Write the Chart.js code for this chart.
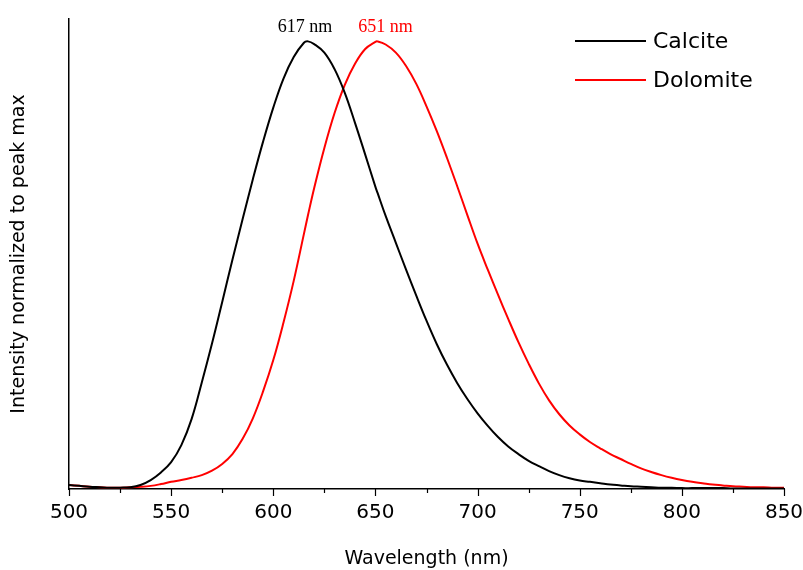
<!DOCTYPE html>
<html>
<head>
<meta charset="utf-8">
<title>Calcite and Dolomite emission</title>
<script src="https://cdn.jsdelivr.net/npm/chart.js@4/dist/chart.umd.min.js"></script>
<style>
  html, body { margin: 0; padding: 0; background: #fff; }
  #wrap { width: 803px; height: 570px; position: relative; }
</style>
</head>
<body>
<div id="wrap"><canvas id="c" width="803" height="570"></canvas></div>
<script>
// Wavelength grid (nm)
const wavelengths = [
  500,505,510,515,520,525,530,535,540,545,550,555,560,565,570,575,580,585,590,595,
  600,605,610,615,617,620,625,630,635,640,645,650,651,655,660,665,670,675,680,685,
  690,695,700,705,710,715,720,725,730,735,740,745,750,755,760,765,770,775,780,785,
  790,795,800,805,810,815,820,825,830,835,840,845,850
];

// Normalized emission intensity, calcite
const calcite = [
  0.009,0.007,0.005,0.004,0.003,0.003,0.004,0.009,0.020,0.037,0.060,0.098,0.156,0.238,0.325,0.418,0.512,0.603,0.692,0.776,
  0.852,0.917,0.965,0.997,1.000,0.994,0.975,0.938,0.885,0.818,0.747,0.675,0.662,0.610,0.550,0.490,0.432,0.376,0.324,0.278,
  0.237,0.201,0.169,0.141,0.116,0.095,0.078,0.063,0.051,0.040,0.031,0.024,0.019,0.016,0.013,0.010,0.008,0.006,0.005,0.004,
  0.003,0.003,0.002,0.002,0.002,0.002,0.002,0.001,0.001,0.001,0.001,0.001,0.001
];

// Normalized emission intensity, dolomite
const dolomite = [
  0.009,0.007,0.005,0.004,0.003,0.003,0.004,0.005,0.007,0.011,0.016,0.020,0.025,0.031,0.041,0.056,0.078,0.112,0.158,0.218,
  0.288,0.372,0.465,0.570,0.612,0.672,0.762,0.840,0.903,0.950,0.983,0.999,1.000,0.993,0.975,0.945,0.905,0.855,0.800,0.740,
  0.677,0.612,0.548,0.490,0.434,0.380,0.328,0.280,0.236,0.198,0.167,0.142,0.122,0.105,0.091,0.078,0.067,0.056,0.046,0.038,
  0.031,0.025,0.020,0.016,0.013,0.010,0.008,0.006,0.005,0.004,0.004,0.003,0.003
];

const seriesNames = ['Calcite', 'Dolomite'];
const seriesColors = ['#000000', '#ff0000'];
const peakNm = [617, 651];
const peakLabels = ['617 nm', '651 nm'];

// x-axis tick values
const majorTicks = [500, 550, 600, 650, 700, 750, 800, 850];
const minorTicks = [525, 575, 625, 675, 725, 775, 825];

const UI_FONT = '"Comic Sans MS", "DejaVu Sans", sans-serif';

const toPoints = (vals) => wavelengths.map((x, i) => ({ x: x, y: vals[i] }));

// Tick marks under the x axis: long at 50 nm, short at 25 nm
const tickMarks = {
  id: 'tickMarks',
  afterDatasetsDraw(chart) {
    const { ctx, scales: { x }, chartArea } = chart;
    ctx.save();
    ctx.strokeStyle = '#000';
    ctx.lineWidth = 1.2;
    const y0 = chartArea.bottom;
    const draw = (v, len) => {
      const px = Math.round(x.getPixelForValue(v)) + 0.5;
      ctx.beginPath();
      ctx.moveTo(px, y0);
      ctx.lineTo(px, y0 + len);
      ctx.stroke();
    };
    majorTicks.forEach(v => draw(v, 7));
    minorTicks.forEach(v => draw(v, 4));
    ctx.restore();
  }
};

// Peak wavelength annotations
const peakNotes = {
  id: 'peakNotes',
  afterDatasetsDraw(chart) {
    const { ctx, scales: { x, y } } = chart;
    const shift = [-3, 8];
    ctx.save();
    ctx.font = '18px "Liberation Serif", "Times New Roman", serif';
    ctx.textAlign = 'center';
    ctx.textBaseline = 'alphabetic';
    peakNm.forEach((nm, i) => {
      ctx.fillStyle = seriesColors[i];
      ctx.fillText(peakLabels[i], x.getPixelForValue(nm) + shift[i], y.getPixelForValue(1) - 9);
    });
    ctx.restore();
  }
};

// Legend in the upper right of the plot
const lineLegend = {
  id: 'lineLegend',
  afterDraw(chart) {
    const { ctx } = chart;
    ctx.save();
    ctx.font = '22px ' + UI_FONT;
    ctx.textBaseline = 'middle';
    ctx.textAlign = 'left';
    chart.data.datasets.forEach((ds, i) => {
      const yy = 41 + i * 39;
      ctx.strokeStyle = ds.borderColor;
      ctx.lineWidth = 2;
      ctx.beginPath();
      ctx.moveTo(575, yy);
      ctx.lineTo(646, yy);
      ctx.stroke();
      ctx.fillStyle = '#000';
      ctx.fillText(ds.label, 653, yy + 1);
    });
    ctx.restore();
  }
};

new Chart(document.getElementById('c'), {
  type: 'line',
  data: {
    datasets: [
      { label: seriesNames[0], data: toPoints(calcite), borderColor: seriesColors[0], borderWidth: 2,
        pointRadius: 0, tension: 0.4, fill: false },
      { label: seriesNames[1], data: toPoints(dolomite), borderColor: seriesColors[1], borderWidth: 2,
        pointRadius: 0, tension: 0.4, fill: false }
    ]
  },
  options: {
    responsive: false,
    animation: false,
    devicePixelRatio: 1,
    layout: { padding: { top: 19, right: 19, left: 0, bottom: 0 } },
    plugins: {
      legend: { display: false },
      tooltip: { enabled: false }
    },
    scales: {
      x: {
        type: 'linear',
        min: 500,
        max: 850,
        afterFit(scale) {
          scale.height = 81;
          scale.paddingLeft = 0;
          scale.paddingRight = 0;
        },
        afterBuildTicks(scale) { scale.ticks = majorTicks.map(v => ({ value: v })); },
        grid: { display: true, drawOnChartArea: false, drawTicks: false },
        border: { display: true, color: '#000', width: 1.5 },
        ticks: {
          color: '#000',
          font: { family: UI_FONT, size: 20 },
          padding: 12,
          maxRotation: 0,
          autoSkip: false
        },
        title: {
          display: true,
          text: 'Wavelength (nm)',
          color: '#000',
          font: { family: UI_FONT, size: 19 },
          padding: { top: 0, bottom: 0 }
        }
      },
      y: {
        min: 0,
        max: 1.05,
        afterFit(scale) {
          scale.width = 69;
          scale.paddingTop = 0;
          scale.paddingBottom = 0;
        },
        grid: { display: true, drawOnChartArea: false, drawTicks: false },
        border: { display: true, color: '#000', width: 1.5 },
        ticks: { display: false },
        title: {
          display: true,
          text: 'Intensity normalized to peak max',
          color: '#000',
          font: { family: UI_FONT, size: 19 },
          padding: { top: 8, bottom: 0 }
        }
      }
    }
  },
  plugins: [tickMarks, peakNotes, lineLegend]
});
</script>
</body>
</html>
